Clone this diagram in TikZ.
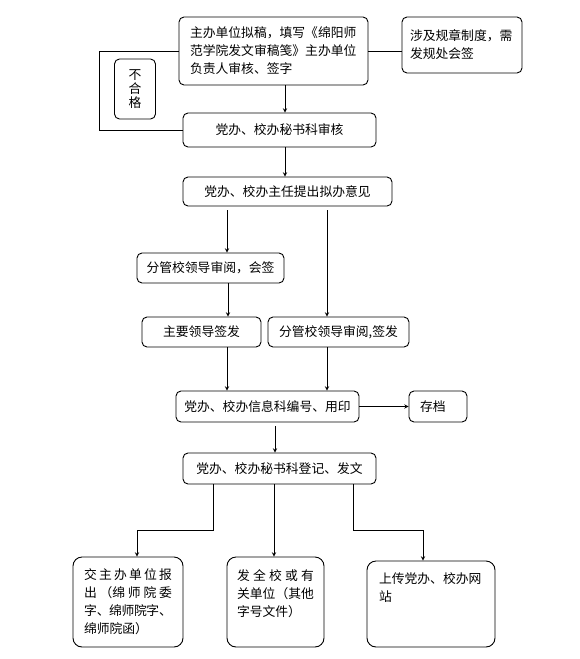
\documentclass[tikz,border=0pt]{standalone}
\usepackage{fontspec}
\usetikzlibrary{arrows}
\newfontfamily\cjk{Noto Sans CJK SC}
\XeTeXlinebreaklocale "zh"
\XeTeXlinebreakskip=0pt plus 4pt minus 0.6pt
\hbadness=10000
\hfuzz=5pt
\begin{document}
\begin{tikzpicture}[
    x = 1pt,
    y = -1pt,
    line width = 0.9pt,
    block/.style = {
        rectangle,
        rounded corners = 5pt,
        inner sep = 0pt,
        text centered,
        draw = black,
        fill = white,
        font = \cjk\fontsize{12.8}{18}\selectfont
    },
    tallblock/.style = {
        block,
        rounded corners = 9pt,
        inner xsep = 11pt,
        inner ysep = 12pt
    },
    arrow/.style = {
        ->,
        >=stealth,
        black
    }
]
    \useasboundingbox (0,0) rectangle (580,659);

    % Nodes
    \node [block, minimum width = 189pt, minimum height = 68pt, text width = 167pt, align = left] (1) at (273.5,51) {主办单位拟稿，填写《绵阳师\\范学院发文审稿笺》主办单位\\负责人审核、签字};
    \node [block, minimum width = 120pt, minimum height = 56pt, text width = 104pt, align = left] (12) at (462,45) {涉及规章制度，需\\发规处会签};
    \node [block, minimum width = 41pt, minimum height = 60pt, align = center, font = \cjk\fontsize{12.8}{14}\selectfont] (13) at (135,89) {不\\合\\格};
    \node [block, minimum width = 193pt, minimum height = 34pt] (2) at (279.5,130) {党办、校办秘书科审核};
    \node [block, minimum width = 209pt, minimum height = 29pt] (3) at (287.5,191.5) {党办、校办主任提出拟办意见};
    \node [block, minimum width = 147pt, minimum height = 30pt] (4) at (210.5,268) {分管校领导审阅，会签};
    \node [block, minimum width = 119pt, minimum height = 30pt] (5) at (201.5,332) {主要领导签发};
    \node [block, minimum width = 141pt, minimum height = 30pt] (6) at (338.5,332) {分管校领导审阅,签发};
    \node [block, minimum width = 183pt, minimum height = 31pt] (7) at (267.5,406.5) {党办、校办信息科编号、用印};
    \node [block, minimum width = 58pt, minimum height = 31pt, text width = 36pt, align = left] (14) at (438,406.5) {存档};
    \node [block, minimum width = 193pt, minimum height = 31pt] (8) at (279.5,468.5) {党办、校办秘书科登记、发文};
    \node [tallblock] (9) at (128,602) {\parbox[c][66pt][t]{88pt}{交主办单位报\linebreak 出（绵师院委\linebreak 字、绵师院字、\linebreak 绵师院函）}};
    \node [tallblock, inner xsep = 10pt, inner ysep = 13pt] (10) at (275.5,602) {\parbox[c][64pt][t]{77pt}{发全校或有\linebreak 关单位（其他\linebreak 字号文件）}};
    \node [tallblock, inner xsep = 12pt] (11) at (431,604) {\parbox[c][62pt][t]{104pt}{上传党办、校办网\\站}};

    % Lines
    \draw (1.east) -- (1.east -| 12.west);
    \draw (1.west) -- ++(-79,0) |- (2.west);

    % Arrows
    \draw [arrow] ([xshift = 11.5pt]1.south) -- ([xshift = 5.5pt]2.north);
    \draw [arrow] ([xshift = 5.5pt]2.south) -- ([xshift = -2.5pt]3.north);
    \draw [arrow] ([xshift = -60.5pt, yshift = -4pt]3.south) -- ([xshift = 16.5pt]4.north);
    \draw [arrow] ([xshift = 39.5pt, yshift = -4pt]3.south) -- ([xshift = -11.5pt]6.north);
    \draw [arrow] ([xshift = 17.5pt]4.south) -- ([xshift = 26.5pt]5.north);
    \draw [arrow] ([xshift = 25.5pt]5.south) -- ([xshift = -40.5pt]7.north);
    \draw [arrow] ([xshift = -11.5pt]6.south) -- ([xshift = 59.5pt]7.north);
    \draw [arrow] (7.east) -- (14.west);
    \draw [arrow] ([xshift = 7.5pt, yshift = -4pt]7.south) -- ([xshift = -4.5pt]8.north);
    \draw [arrow] ([xshift = -66.5pt]8.south) -- ++(0,46) -| ([xshift = 9pt]9.north);
    \draw [arrow] ([xshift = -5.5pt]8.south) -- ([xshift = -1.5pt]10.north);
    \draw [arrow] ([xshift = 73.5pt]8.south) -- ++(0,46) -| ([xshift = -8pt]11.north);

\end{tikzpicture}
\end{document}
